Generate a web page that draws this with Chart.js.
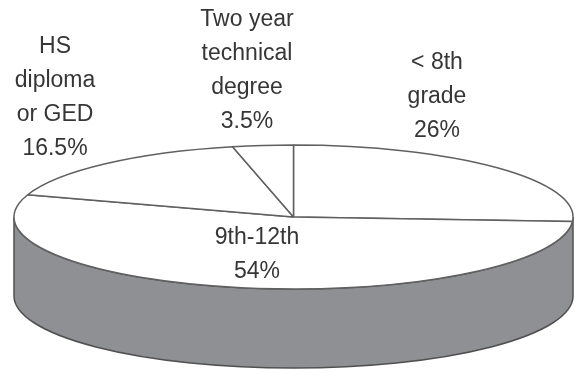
<!DOCTYPE html>
<html>
<head>
<meta charset="utf-8">
<script src="https://cdn.jsdelivr.net/npm/chart.js@4.4.1/dist/chart.umd.min.js"></script>
<style>
  html, body { margin: 0; padding: 0; background: #fff; }
  #wrap { width: 575px; height: 373px; }
</style>
</head>
<body>
<div id="wrap"><canvas id="pie" width="575" height="373"></canvas></div>
<script>
// ─── Data ─────────────────────────────────────────────
// clockwise from 12 o'clock
const CATEGORIES   = ['< 8th grade', '9th-12th', 'HS diploma or GED', 'Two year technical degree'];
const LABEL_LINES  = [['< 8th', 'grade'], ['9th-12th'], ['HS', 'diploma', 'or GED'], ['Two year', 'technical', 'degree']];
const SHARES       = [26, 54, 16.5, 3.5];
const SHARE_LABELS = ['26%', '54%', '16.5%', '3.5%'];

// ─── Look ─────────────────────────────────────────────
const RX = 279.5, RY = 72, DEPTH = 79;       // squashed disc + wall height
const SIDE = '#8f9094', EDGE = '#505050', LINE = '#606060', INK = '#363636';
const FONT = '23px "Liberation Sans", Arial, sans-serif';
const LINE_H = 34;
// first-line centre of each label block
const LABEL_POS = [[437, 63], [257, 238], [55, 47], [247, 20]];

// ─── 3D pie plugin ────────────────────────────────────
const pie3d = {
  id: 'pie3d',
  beforeDatasetsDraw(chart) {
    const ctx = chart.ctx;
    const arc = chart.getDatasetMeta(0).data[0];
    const { x, y, outerRadius: r } = arc.getProps(['x', 'y', 'outerRadius'], true);

    // front wall
    ctx.save();
    ctx.beginPath();
    ctx.moveTo(x + RX, y);
    ctx.lineTo(x + RX, y + DEPTH);
    ctx.ellipse(x, y + DEPTH, RX, RY, 0, 0, Math.PI);
    ctx.lineTo(x - RX, y);
    ctx.ellipse(x, y, RX, RY, 0, Math.PI, 0, true);
    ctx.closePath();
    ctx.fillStyle = SIDE;
    ctx.fill();
    ctx.strokeStyle = EDGE;
    ctx.lineWidth = 1.5;
    ctx.stroke();
    ctx.restore();

    // squash the disc; strokes keep screen width
    ctx.save();
    const base = ctx.getTransform();
    ctx.translate(x, y);
    ctx.scale(RX / r, RY / r);
    ctx.translate(-x, -y);
    const stroke = CanvasRenderingContext2D.prototype.stroke;
    ctx.stroke = function () {
      this.save();
      this.setTransform(base);
      stroke.call(this);
      this.restore();
    };
  },
  afterDatasetsDraw(chart) {
    const ctx = chart.ctx;
    delete ctx.stroke;
    ctx.restore();

    ctx.save();
    ctx.font = FONT;
    ctx.fillStyle = INK;
    ctx.textAlign = 'center';
    ctx.textBaseline = 'middle';
    LABEL_LINES.forEach((lines, i) => {
      const [lx, ly] = LABEL_POS[i];
      lines.concat(SHARE_LABELS[i]).forEach((t, j) => ctx.fillText(t, lx, ly + j * LINE_H));
    });
    ctx.restore();
  }
};

// ─── Chart ────────────────────────────────────────────
new Chart(document.getElementById('pie'), {
  type: 'pie',
  data: {
    labels: CATEGORIES,
    datasets: [{
      data: SHARES,
      backgroundColor: '#ffffff',
      borderColor: LINE,
      borderWidth: 1.5,
      clip: false,
    }],
  },
  options: {
    responsive: false,
    animation: false,
    rotation: 0,
    layout: { padding: { left: 143.5, right: 131.5, top: 67, bottom: 6 } },
    plugins: {
      legend: { display: false },
      tooltip: { enabled: false },
    },
  },
  plugins: [pie3d],
});
</script>
</body>
</html>
